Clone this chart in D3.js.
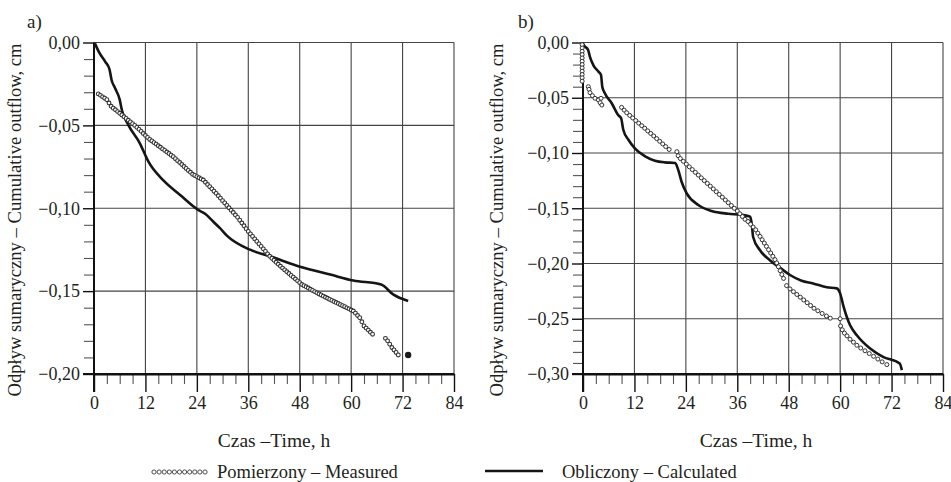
<!DOCTYPE html>
<html>
<head>
<meta charset="utf-8">
<script src="https://cdn.jsdelivr.net/npm/d3@7"></script>
<style>
body { margin: 0; background: #fff; }
text { font-family: "Liberation Serif", "Times New Roman", serif; fill: #231f20; }
</style>
</head>
<body>
<script>
// ticks
var xTicks = [0, 12, 24, 36, 48, 60, 72, 84];
var yTicksA = [0, -0.05, -0.10, -0.15, -0.20];
var yTicksB = [0, -0.05, -0.10, -0.15, -0.20, -0.25, -0.30];

// a) calculated  [time h, outflow cm]
var calcA = [[0.2,-0.0005],[1.2,-0.006],[2.6,-0.0115],[3.6,-0.016],[4.1,-0.0226],[4.9,-0.0275],
  [6.0,-0.0345],[6.5,-0.0407],[8.0,-0.0497],[10.7,-0.0608],[12.7,-0.0719],[16.2,-0.0832],
  [20.1,-0.092],[24.3,-0.101],[26.0,-0.1035],[27.8,-0.108],[29.4,-0.112],[31,-0.1165],
  [36.4,-0.125],[41.1,-0.129],[48.3,-0.1355],[55.1,-0.140],[60.5,-0.1436],[67,-0.146],
  [69.8,-0.152],[73.3,-0.156]];

// a) measured
var measA = [[1.0,-0.0310],[1.5,-0.0319],[2.0,-0.0328],[2.5,-0.0336],[3.0,-0.0345],[3.5,-0.0365],
  [4.0,-0.0385],[4.5,-0.0396],[5.0,-0.0406],[5.5,-0.0417],[6.0,-0.0427],[6.5,-0.0437],
  [7.0,-0.0448],[7.5,-0.0458],[8.0,-0.0469],[8.5,-0.0479],[9.0,-0.0490],[9.5,-0.0500],
  [10.0,-0.0512],[10.5,-0.0524],[11.0,-0.0536],[11.5,-0.0549],[12.0,-0.0561],[12.5,-0.0573],
  [13.0,-0.0585],[13.5,-0.0594],[14.0,-0.0604],[14.5,-0.0613],[15.0,-0.0623],[15.5,-0.0632],
  [16.0,-0.0642],[16.5,-0.0651],[17.0,-0.0661],[17.5,-0.0670],[18.0,-0.0680],[18.5,-0.0689],
  [19.0,-0.0701],[19.5,-0.0713],[20.0,-0.0724],[20.5,-0.0736],[21.0,-0.0748],[21.5,-0.0760],
  [22.0,-0.0772],[22.5,-0.0783],[23.0,-0.0795],[23.5,-0.0802],[24.0,-0.0809],[24.5,-0.0816],
  [25.0,-0.0823],[25.5,-0.0830],[26.0,-0.0843],[26.5,-0.0857],[27.0,-0.0870],[27.5,-0.0883],
  [28.0,-0.0897],[28.5,-0.0910],[29.0,-0.0925],[29.5,-0.0939],[30.0,-0.0954],[30.5,-0.0968],
  [31.0,-0.0983],[31.5,-0.0997],[32.0,-0.1012],[32.5,-0.1026],[33.0,-0.1041],[33.5,-0.1055],
  [34.0,-0.1072],[34.5,-0.1089],[35.0,-0.1106],[35.5,-0.1123],[36.0,-0.1140],[36.5,-0.1155],
  [37.0,-0.1170],[37.5,-0.1185],[38.0,-0.1200],[38.5,-0.1215],[39.0,-0.1230],[39.5,-0.1245],
  [40.0,-0.1260],[40.5,-0.1275],[41.0,-0.1290],[41.5,-0.1302],[42.0,-0.1314],[42.5,-0.1326],
  [43.0,-0.1338],[43.5,-0.1350],[44.0,-0.1361],[44.5,-0.1372],[45.0,-0.1383],[45.5,-0.1394],
  [46.0,-0.1405],[46.5,-0.1416],[47.0,-0.1427],[47.5,-0.1438],[48.0,-0.1449],[48.5,-0.1460],
  [49.0,-0.1467],[49.5,-0.1474],[50.0,-0.1481],[50.5,-0.1489],[51.0,-0.1496],[51.5,-0.1503],
  [52.0,-0.1510],[52.5,-0.1517],[53.0,-0.1523],[53.5,-0.1530],[54.0,-0.1537],[54.5,-0.1543],
  [55.0,-0.1550],[55.5,-0.1556],[56.0,-0.1563],[56.5,-0.1569],[57.0,-0.1575],[57.5,-0.1582],
  [58.0,-0.1588],[58.5,-0.1594],[59.0,-0.1601],[59.5,-0.1607],[60.0,-0.1614],[60.5,-0.1620],
  [61.0,-0.1633],[61.5,-0.1647],[62.0,-0.1660],[62.5,-0.1685],[63.0,-0.1710],[63.5,-0.1723],
  [64.0,-0.1735],[64.5,-0.1748],[65.0,-0.1760],
  [68.0,-0.1785],[68.5,-0.1800],[69.0,-0.1820],[69.5,-0.1840],[70.0,-0.1855],[70.5,-0.1870],[71.0,-0.1885]];
var lastA = [[73.3,-0.1885]];

// b) calculated
var calcB = [[0,-0.001],[0.3,-0.003],[1.2,-0.0068],[1.6,-0.0128],[2.4,-0.0204],[3.6,-0.0264],
  [4.2,-0.0294],[4.5,-0.040],[5.1,-0.046],[6.7,-0.055],[8.2,-0.0656],[8.9,-0.0686],[9.4,-0.079],
  [10.6,-0.088],[12.1,-0.0958],[14.5,-0.103],[16.8,-0.107],[19.1,-0.1085],[21.5,-0.109],
  [22.2,-0.115],[23,-0.126],[24.2,-0.1365],[26.9,-0.147],[30,-0.1525],[33.9,-0.155],[37,-0.156],
  [39,-0.1576],[39.4,-0.165],[39.7,-0.176],[41.3,-0.188],[43.6,-0.197],[46,-0.204],[48.3,-0.2104],
  [51,-0.2156],[53.7,-0.218],[56.9,-0.2215],[59.2,-0.2225],[60,-0.227],[60.8,-0.239],
  [62.3,-0.2557],[63.9,-0.265],[67,-0.277],[70,-0.2845],[73.9,-0.2905],[74.4,-0.2965]];

// b) measured
var measB = [[-0.2,-0.002],[-0.2,-0.005],[-0.2,-0.008],[-0.2,-0.011],[-0.2,-0.014],[-0.2,-0.017],
  [-0.2,-0.020],[-0.2,-0.023],[-0.2,-0.026],[-0.2,-0.029],[-0.2,-0.032],[-0.2,-0.035],
  [1.24,-0.0400],[1.4,-0.0424],[1.63,-0.0454],[2.2,-0.0481],[2.8,-0.0505],[3.6,-0.052],
  [4.2,-0.0505],[4.0,-0.0545],[4.4,-0.0566],
  [9.0,-0.0587],[9.6,-0.0612],[10.2,-0.0636],[10.9,-0.0660],[11.6,-0.0683],[12.3,-0.0706],
  [13.0,-0.0730],[13.7,-0.0753],[14.4,-0.0776],[15.1,-0.0800],[15.8,-0.0823],[16.5,-0.0846],
  [17.2,-0.0870],[17.9,-0.0894],[18.6,-0.0918],[19.3,-0.0942],[20.1,-0.0968],
  [21.9,-0.0988],[22.2,-0.1025],[22.7,-0.1050],[23.4,-0.1075],[24.1,-0.1100],[24.8,-0.1125],
  [25.5,-0.1150],[26.2,-0.1175],[26.9,-0.1200],[27.6,-0.1225],[28.3,-0.1250],[29.0,-0.1275],
  [29.7,-0.1300],[30.4,-0.1325],[31.1,-0.1350],[31.8,-0.1375],[32.5,-0.1400],[33.2,-0.1425],
  [33.9,-0.1450],[34.6,-0.1475],[35.3,-0.1500],[36.0,-0.1525],[36.6,-0.1550],
  [37.2,-0.1575],[37.8,-0.1600],[38.5,-0.1620],[39.1,-0.1645],[39.7,-0.1670],[40.3,-0.1695],
  [40.8,-0.1725],[41.3,-0.1755],[41.8,-0.1785],[42.3,-0.1815],[42.8,-0.1845],[43.3,-0.1875],
  [43.8,-0.1905],[44.3,-0.1935],[44.8,-0.1965],[45.2,-0.1995],[45.6,-0.2030],[46.0,-0.2065],
  [46.4,-0.2100],[46.8,-0.2135],[47.5,-0.2200],[48.3,-0.2230],[49.1,-0.2255],[49.9,-0.2280],
  [50.7,-0.2305],[51.5,-0.2330],[52.3,-0.2355],[53.1,-0.2380],[53.9,-0.2405],[54.8,-0.2428],
  [55.8,-0.2452],[56.8,-0.2475],[57.7,-0.2495],[60.0,-0.2500],
  [60.1,-0.2565],[60.5,-0.2600],[61.0,-0.2630],[61.6,-0.2655],[62.3,-0.2685],[63.1,-0.2712],
  [63.9,-0.2740],[64.8,-0.2765],[65.8,-0.2790],[66.8,-0.2815],[67.8,-0.2840],[68.8,-0.2865],
  [69.8,-0.2890],[70.9,-0.2915]];

var W = 951, H = 482;
var serif = '"Liberation Serif", "Times New Roman", serif';
var svg = d3.select('body').append('svg')
    .attr('width', W)
    .attr('height', H)
    .style('font-family', serif);

var fmt = function(d) {
    return (d < 0 ? '\u2212' : '') + d3.format('.2f')(Math.abs(d)).replace('.', ',');
};

function drawPanel(p) {
    var x = d3.scaleLinear().domain([0, 84]).range([p.left, p.left + 360]);
    var y = d3.scaleLinear().domain([p.yMin, 0]).range([p.top + 331.5, p.top]);
    var g = svg.append('g');

    // grid
    g.selectAll('.vg').data(xTicks.slice(1)).enter().append('line')
        .attr('x1', d => x(d)).attr('x2', d => x(d))
        .attr('y1', y(0)).attr('y2', y(p.yMin))
        .attr('stroke', '#444').attr('stroke-width', 1.1);
    g.selectAll('.hg').data(p.yTicks.slice(0, -1)).enter().append('line')
        .attr('x1', x(0)).attr('x2', x(84))
        .attr('y1', d => y(d)).attr('y2', d => y(d))
        .attr('stroke', '#444').attr('stroke-width', 1.1);

    // minor ticks
    var xMinor = d3.range(0, 85, 3).filter(d => d % 12 !== 0);
    var yMinor = d3.range(0, Math.round(-p.yMin * 100) + 1).map(d => -d / 100)
        .filter(d => Math.round(d * 100) % 5 !== 0);

    g.append('g').attr('transform', 'translate(0,' + y(p.yMin) + ')')
        .call(d3.axisBottom(x).tickValues(xMinor).tickSize(10).tickFormat(''))
        .call(a => a.select('.domain').remove())
        .call(a => a.selectAll('line').attr('stroke', '#555').attr('stroke-width', 1.1));
    g.append('g').attr('transform', 'translate(' + x(0) + ',0)')
        .call(d3.axisLeft(y).tickValues(yMinor).tickSize(10).tickFormat(''))
        .call(a => a.select('.domain').remove())
        .call(a => a.selectAll('line').attr('stroke', '#555').attr('stroke-width', 1.1));

    // major axes
    var xa = g.append('g').attr('transform', 'translate(0,' + y(p.yMin) + ')')
        .call(d3.axisBottom(x).tickValues(xTicks).tickSize(18).tickSizeOuter(0).tickFormat(d3.format('d')));
    xa.attr('font-family', serif);
    xa.select('.domain').attr('stroke', '#111').attr('stroke-width', 2);
    xa.selectAll('line').attr('stroke', '#111').attr('stroke-width', 1.4);
    xa.selectAll('text').attr('y', 22).attr('font-size', 18).attr('fill', '#231f20');

    var ya = g.append('g').attr('transform', 'translate(' + x(0) + ',0)')
        .call(d3.axisLeft(y).tickValues(p.yTicks).tickSize(11).tickSizeOuter(0).tickFormat(fmt));
    ya.attr('font-family', serif);
    ya.select('.domain').attr('stroke', '#111').attr('stroke-width', 2)
        .attr('d', 'M0,' + (y(p.yMin) + 18) + 'V' + y(0));
    ya.selectAll('line').attr('stroke', '#111').attr('stroke-width', 1.4);
    ya.selectAll('text').attr('x', -14).attr('font-size', 18).attr('fill', '#231f20');
    // x axis line reaches a little left of the y axis, as in the reference
    g.append('line').attr('x1', x(0) - 11).attr('x2', x(84))
        .attr('y1', y(p.yMin)).attr('y2', y(p.yMin))
        .attr('stroke', '#111').attr('stroke-width', 2);

    // calculated line
    var line = d3.line().x(d => x(d[0])).y(d => y(d[1])).curve(d3.curveMonotoneX);
    g.append('path').datum(p.calc)
        .attr('d', line)
        .attr('fill', 'none').attr('stroke', '#151515').attr('stroke-width', 2.6)
        .attr('stroke-linejoin', 'round');

    // measured circles
    g.selectAll('.m').data(p.meas).enter().append('circle')
        .attr('cx', d => x(d[0])).attr('cy', d => y(d[1]))
        .attr('r', p.r)
        .attr('fill', '#fff').attr('stroke', '#333').attr('stroke-width', p.sw);
    if (p.last) {
        g.selectAll('.l').data(p.last).enter().append('circle')
            .attr('cx', d => x(d[0])).attr('cy', d => y(d[1]))
            .attr('r', 3.2).attr('fill', '#1a1a1a');
    }

    // labels
    svg.append('text').attr('x', p.labelX).attr('y', 28).attr('font-size', 19).text(p.label);
    svg.append('text').attr('x', p.titleX).attr('y', 447).attr('text-anchor', 'middle')
        .attr('font-size', 19.5).text('Czas \u2013Time, h');
    svg.append('text')
        .attr('transform', 'translate(' + p.yTitleX + ',220) rotate(-90)')
        .attr('text-anchor', 'middle').attr('font-size', 18.6)
        .text('Odpływ sumaryczny \u2013 Cumulative outflow, cm');
}

drawPanel({left: 94, top: 42.5, yMin: -0.20, yTicks: yTicksA, calc: calcA, meas: measA, last: lastA,
    r: 1.9, sw: 1.1, label: 'a)', labelX: 27, titleX: 274, yTitleX: 21});
drawPanel({left: 583, top: 42.5, yMin: -0.30, yTicks: yTicksB, calc: calcB, meas: measB, last: null,
    r: 2, sw: 1, label: 'b)', labelX: 518, titleX: 756, yTitleX: 503});

// legend
var legY = 472;
svg.selectAll('.lc').data(d3.range(11)).enter().append('circle')
    .attr('cx', d => 154 + d * 5.1).attr('cy', legY)
    .attr('r', 2.1).attr('fill', '#fff').attr('stroke', '#3a3a3a').attr('stroke-width', 0.9);
svg.append('text').attr('x', 217).attr('y', legY + 6).attr('font-size', 18.5).text('Pomierzony \u2013 Measured');
svg.append('line').attr('x1', 485).attr('x2', 543).attr('y1', legY - 1).attr('y2', legY - 1)
    .attr('stroke', '#151515').attr('stroke-width', 2.6);
svg.append('text').attr('x', 562).attr('y', legY + 6).attr('font-size', 18.5).text('Obliczony \u2013 Calculated');
</script>
</body>
</html>
